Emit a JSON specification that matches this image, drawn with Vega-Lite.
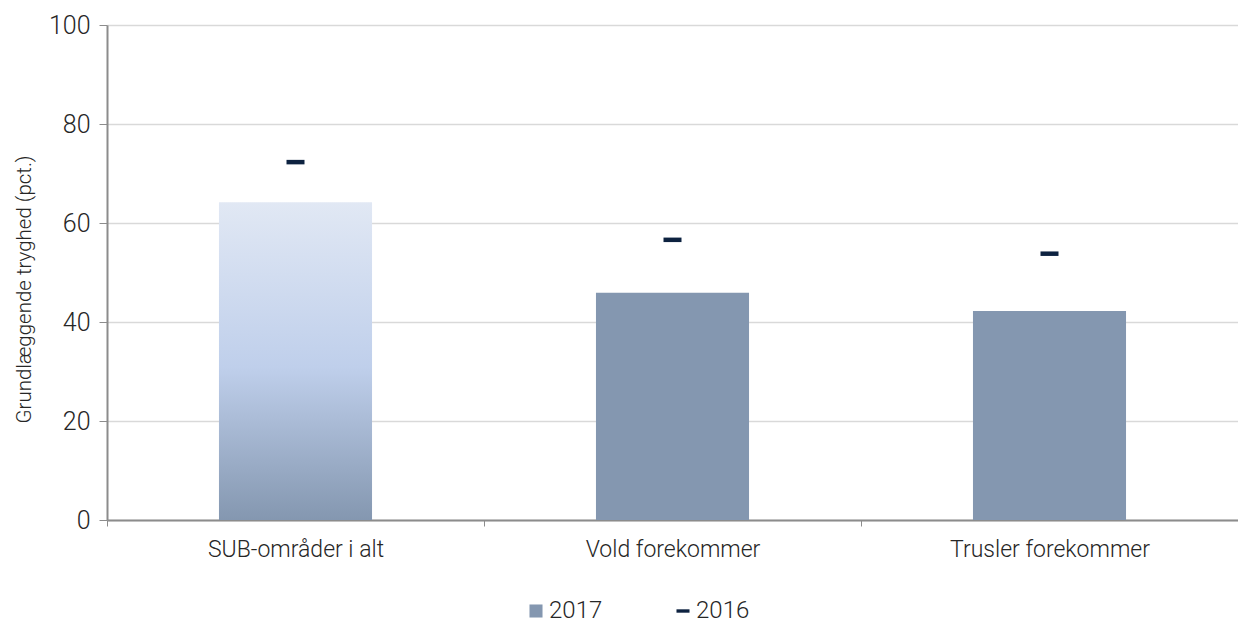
{
  "$schema": "https://vega.github.io/schema/vega-lite/v6.json",
  "width": 1131,
  "height": 495,
  "autosize": {"type": "none"},
  "padding": {"left": 107, "top": 25, "right": 0, "bottom": 106},
  "background": "white",
  "config": {
    "font": "Roboto",
    "view": {"stroke": null},
    "axis": {"labelFont": "Roboto", "titleFont": "Roboto"},
    "legend": {"labelFont": "Roboto"}
  },
  "data": {
    "values": [
      {"kategori": "SUB-områder i alt", "år": "2017", "pct": 64.2},
      {"kategori": "Vold forekommer", "år": "2017", "pct": 45.9},
      {"kategori": "Trusler forekommer", "år": "2017", "pct": 42.2},
      {"kategori": "SUB-områder i alt", "år": "2016", "pct": 72.3},
      {"kategori": "Vold forekommer", "år": "2016", "pct": 56.6},
      {"kategori": "Trusler forekommer", "år": "2016", "pct": 53.8}
    ]
  },
  "encoding": {
    "x": {
      "field": "kategori",
      "type": "nominal",
      "sort": ["SUB-områder i alt", "Vold forekommer", "Trusler forekommer"],
      "scale": {"paddingInner": 0, "paddingOuter": 0},
      "axis": {
        "title": null,
        "labelAngle": 0,
        "labelFontSize": 23,
        "labelFontWeight": 300,
        "labelColor": "#262626",
        "labelPadding": 12,
        "labelLimit": 0,
        "domainColor": "#8c8c8c",
        "domainWidth": 2,
        "tickColor": "#8c8c8c",
        "tickSize": 6,
        "tickBand": "extent",
        "grid": false
      }
    },
    "y": {
      "field": "pct",
      "type": "quantitative",
      "scale": {"domain": [0, 100]},
      "axis": {
        "title": "Grundlæggende tryghed (pct.)",
        "titleFontSize": 20.5,
        "titleFontWeight": 300,
        "titleColor": "#262626",
        "titlePadding": 14,
        "titleY": 264,
        "values": [0, 20, 40, 60, 80, 100],
        "labelFontSize": 25,
        "labelFontWeight": 300,
        "labelColor": "#262626",
        "labelPadding": 9,
        "domainColor": "#8c8c8c",
        "domainWidth": 2,
        "tickColor": "#8c8c8c",
        "tickSize": 8,
        "gridColor": "#d9d9d9",
        "gridWidth": 1.5
      }
    }
  },
  "layer": [
    {
      "transform": [{"filter": "datum['år'] === '2017' && datum.kategori === 'SUB-områder i alt'"}],
      "mark": {
        "type": "bar",
        "width": {"band": 0.406},
        "color": {
          "gradient": "linear",
          "x1": 0, "y1": 1, "x2": 0, "y2": 0,
          "stops": [
            {"offset": 0, "color": "#8497b0"},
            {"offset": 0.48, "color": "#bfcfeb"},
            {"offset": 1, "color": "#e1e8f4"}
          ]
        }
      }
    },
    {
      "transform": [{"filter": "datum['år'] === '2017' && datum.kategori !== 'SUB-områder i alt'"}],
      "mark": {"type": "bar", "width": {"band": 0.406}},
      "encoding": {
        "color": {
          "field": "år",
          "type": "nominal",
          "scale": {"domain": ["2017", "2016"], "range": ["#8497b0", "#0d2240"]},
          "legend": {
            "title": null,
            "orient": "none",
            "legendX": 417,
            "legendY": 574,
            "direction": "horizontal",
            "labelFontSize": 24,
            "labelFontWeight": 300,
            "labelColor": "#262626",
            "labelOffset": 1,
            "columnPadding": 68,
            "symbolSize": 170,
            "symbolOpacity": 1,
            "encode": {
              "symbols": {
                "update": {
                  "shape": {"signal": "datum.label === '2016' ? 'M-1,-0.26H1V0.26H-1Z' : 'square'"},
                  "strokeWidth": {"value": 0}
                }
              }
            }
          }
        }
      }
    },
    {
      "transform": [{"filter": "datum['år'] === '2016'"}],
      "mark": {"type": "tick", "thickness": 4.5, "size": 18, "opacity": 1},
      "encoding": {
        "color": {"field": "år", "type": "nominal"}
      }
    }
  ]
}
